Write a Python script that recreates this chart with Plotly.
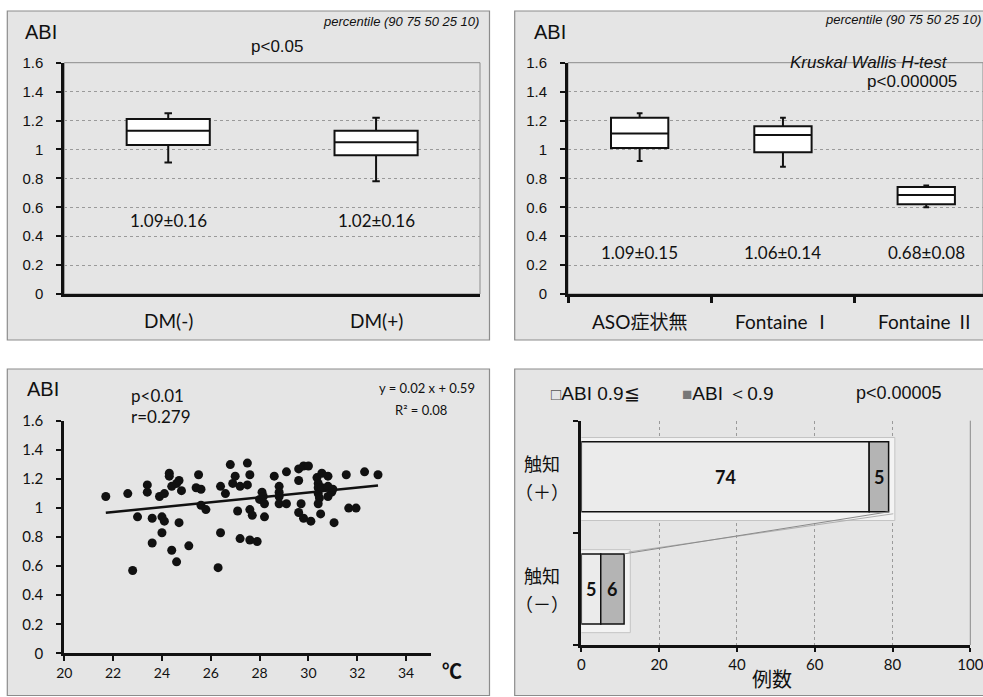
import plotly.graph_objects as go

W, H = 983, 697


def px(x):
    return x / W


def py(y):
    return 1 - y / H


ARIAL = "Liberation Sans, Arial, sans-serif"
CAL = "Lato, Noto Sans CJK JP, sans-serif"
CJK = "Noto Sans CJK JP, sans-serif"
INK = "#111111"
PANEL = "#e5e5e5"
EDGE = "#8c8c8c"
GRID = "#9a9a9a"

# ---------------- data ----------------
# panel 1: DM
dm_groups = ["DM(-)", "DM(+)"]
dm_p90 = [1.25, 1.22]
dm_p75 = [1.21, 1.13]
dm_p50 = [1.13, 1.05]
dm_p25 = [1.03, 0.96]
dm_p10 = [0.91, 0.78]
dm_mean_sd = ["1.09±0.16", "1.02±0.16"]

# panel 2: stage
stage_groups = ["ASO症状無", "Fontaine Ⅰ", "Fontaine Ⅱ"]
stage_p90 = [1.25, 1.22, 0.75]
stage_p75 = [1.22, 1.16, 0.74]
stage_p50 = [1.11, 1.10, 0.685]
stage_p25 = [1.01, 0.98, 0.62]
stage_p10 = [0.92, 0.88, 0.60]
stage_mean_sd = ["1.09±0.15", "1.06±0.14", "0.68±0.08"]

# panel 3: skin temperature vs ABI
temp_c = [21.7, 22.6, 22.8, 23.0, 23.4, 23.4, 23.6, 23.6, 23.9, 24.0,
          24.0, 24.1, 24.1, 24.3, 24.3, 24.4, 24.4, 24.6, 24.7, 24.6,
          24.7, 24.8, 25.1, 25.5, 25.4, 25.6, 25.6, 25.8, 26.3, 26.4,
          26.4, 26.6, 26.8, 26.9, 27.0, 27.1, 27.2, 27.2, 27.5, 27.5,
          27.6, 27.6, 27.6, 27.7, 27.9, 28.0, 28.1, 28.15, 28.2, 28.2,
          28.6, 28.8, 28.8, 28.8, 28.8, 29.1, 29.1, 29.6, 29.6, 29.6,
          29.7, 29.8, 29.8, 30.0, 30.1, 30.35, 30.4, 30.4, 30.4, 30.45,
          30.4, 30.55, 30.55, 30.5, 30.8, 30.8, 30.8, 30.95, 31.0, 31.05,
          31.55, 31.65, 31.95, 32.3, 32.85]
abi = [1.08, 1.10, 0.57, 0.94, 1.16, 1.11, 0.93, 0.76, 1.08, 0.94,
       0.83, 1.10, 0.91, 1.24, 1.22, 1.15, 0.71, 1.17, 1.19, 0.63,
       0.90, 1.12, 0.74, 1.23, 1.14, 1.13, 1.02, 0.99, 0.59, 0.83,
       1.15, 1.10, 1.30, 1.17, 1.22, 0.98, 1.15, 0.79, 1.31, 1.16,
       1.23, 0.99, 0.78, 0.95, 0.77, 1.06, 1.11, 1.08, 1.03, 0.94,
       1.22, 1.15, 1.11, 1.08, 1.03, 1.25, 1.03, 1.27, 1.19, 0.97,
       1.03, 1.29, 0.93, 1.29, 0.91, 1.21, 1.17, 1.14, 1.10, 1.07,
       1.03, 1.24, 1.14, 0.96, 1.22, 1.15, 1.08, 1.11, 1.13, 0.90,
       1.23, 1.00, 1.00, 1.25, 1.23]
trend_x = [21.7, 32.85]
trend_y = [0.968, 1.155]

# panel 4: palpation
palp_line1 = ["触知", "触知"]
palp_line2 = ["（＋）", "（－）"]
palp_pos = [1, 0]
palp_normal = [74, 5]   # ABI 0.9≦
palp_low = [5, 6]       # ABI <0.9

fig = go.Figure()

# ---------- panel 1: boxes ----------
dm_x = list(range(len(dm_groups)))
fig.add_trace(go.Box(
    x=dm_x, q1=dm_p25, median=dm_p50, q3=dm_p75,
    lowerfence=dm_p10, upperfence=dm_p90,
    width=0.4, whiskerwidth=0.09, fillcolor="white",
    line=dict(color=INK, width=2), boxpoints=False,
    xaxis="x", yaxis="y", hoverinfo="skip", showlegend=False))

# ---------- panel 2: boxes ----------
st_x = list(range(len(stage_groups)))
fig.add_trace(go.Box(
    x=st_x, q1=stage_p25, median=stage_p50, q3=stage_p75,
    lowerfence=stage_p10, upperfence=stage_p90,
    width=0.4, whiskerwidth=0.1, fillcolor="white",
    line=dict(color=INK, width=2), boxpoints=False,
    xaxis="x2", yaxis="y2", hoverinfo="skip", showlegend=False))

# ---------- panel 3: scatter ----------
fig.add_trace(go.Scatter(
    x=temp_c, y=abi, mode="markers",
    marker=dict(size=9, color=INK),
    xaxis="x3", yaxis="y3", hoverinfo="skip", showlegend=False))
fig.add_trace(go.Scatter(
    x=trend_x, y=trend_y, mode="lines",
    line=dict(color=INK, width=2.5),
    xaxis="x3", yaxis="y3", hoverinfo="skip", showlegend=False))

# ---------- panel 4: bars ----------
totals = [a + b for a, b in zip(palp_normal, palp_low)]
fig.add_trace(go.Bar(
    y=palp_pos, x=[t + 2.0 for t in totals], base=[-0.4] * len(totals),
    orientation="h", width=0.74, offset=-0.39,
    marker=dict(color="#f3f3f3", line=dict(color="#c4c4c4", width=1)),
    xaxis="x4", yaxis="y4", hoverinfo="skip", showlegend=False))
fig.add_trace(go.Scatter(
    x=[totals[0] + 1.2, totals[1] + 1.2],
    y=[palp_pos[0] - 0.33, palp_pos[1] + 0.33],
    mode="lines", line=dict(color="#b0b0b0", width=1),
    xaxis="x4", yaxis="y4", hoverinfo="skip", showlegend=False))
fig.add_trace(go.Scatter(
    x=[totals[0], totals[1]],
    y=[palp_pos[0] - 0.3125, palp_pos[1] + 0.3125],
    mode="lines", line=dict(color="#8a8a8a", width=1),
    xaxis="x4", yaxis="y4", hoverinfo="skip", showlegend=False))
fig.add_trace(go.Bar(
    y=palp_pos, x=palp_normal, base=[0] * len(palp_normal),
    orientation="h", width=0.625,
    marker=dict(color="#ebebeb", line=dict(color=INK, width=1.5)),
    xaxis="x4", yaxis="y4", hoverinfo="skip", showlegend=False))
fig.add_trace(go.Bar(
    y=palp_pos, x=palp_low, base=palp_normal,
    orientation="h", width=0.625,
    marker=dict(color="#b4b4b4", line=dict(color=INK, width=1.5)),
    xaxis="x4", yaxis="y4", hoverinfo="skip", showlegend=False))

# ---------- axes ----------
line_kw = dict(showline=True, linecolor=INK, linewidth=3, zeroline=False,
               automargin=False)
ytick_kw = dict(ticks="outside", ticklen=5, tickwidth=2, tickcolor=INK,
                ticklabelstandoff=10)

layout = dict(
    width=W, height=H, autosize=False,
    margin=dict(l=0, r=0, t=0, b=0, pad=0, autoexpand=False),
    paper_bgcolor="white", plot_bgcolor="rgba(0,0,0,0)",
    barmode="overlay", showlegend=False, hovermode=False,
    xaxis=dict(domain=[px(64.3), px(480)], range=[-0.5, 1.5], anchor="y",
               showgrid=False, showticklabels=False, ticks="", **line_kw),
    yaxis=dict(domain=[py(294), py(62.7)], range=[0, 1.6], dtick=0.2, tick0=0,
               anchor="x", showgrid=True, gridcolor=GRID, griddash="dot",
               gridwidth=1, tickfont=dict(family=ARIAL, size=15, color=INK),
               **ytick_kw, **line_kw),
    xaxis2=dict(domain=[px(568), 1.0], range=[-0.5, -0.5 + (983 - 568) / 143.3],
                anchor="y2", showgrid=False, showticklabels=False,
                tickvals=[-0.5, 0.5, 1.5], ticks="outside", ticklen=6,
                tickwidth=3, tickcolor=INK, **line_kw),
    yaxis2=dict(domain=[py(294), py(62.7)], range=[0, 1.6], dtick=0.2, tick0=0,
                anchor="x2", showgrid=True, gridcolor=GRID, griddash="dot",
                gridwidth=1, tickfont=dict(family=ARIAL, size=15, color=INK),
                **ytick_kw, **line_kw),
    xaxis3=dict(domain=[px(64.3), px(430.5)], range=[20, 35],
                tickvals=list(range(20, 35, 2)), anchor="y3", showgrid=False,
                ticks="outside", ticklen=5, tickwidth=2, tickcolor=INK,
                tickfont=dict(family=CAL, size=14, color=INK), **line_kw),
    yaxis3=dict(domain=[py(653.3), py(421)], range=[0, 1.6], dtick=0.2, tick0=0,
                anchor="x3", showgrid=False,
                tickfont=dict(family=CAL, size=15, color=INK),
                **ytick_kw, **line_kw),
    xaxis4=dict(domain=[px(581.3), px(970.3)], range=[0, 100], dtick=20,
                anchor="y4", showgrid=True, gridcolor=GRID, griddash="dot",
                gridwidth=1, ticks="outside", ticklen=4, tickwidth=2,
                tickcolor=INK, tickfont=dict(family=CAL, size=15, color=INK),
                ticklabeloverflow="allow", **line_kw),
    yaxis4=dict(domain=[py(645), py(420.7)], range=[-0.5, 1.5],
                tickvals=[-0.5, 0.5, 1.5], anchor="x4", showgrid=False,
                showticklabels=False, ticks="outside", ticklen=5, tickwidth=2,
                tickcolor=INK, **line_kw),
)

# ---------- panel backgrounds / frames ----------
shapes = []
for (x0, x1, y0, y1) in [(7.3, 489.5, 11, 340), (514.7, 995, 11, 340),
                         (7.3, 489.5, 369, 695.5), (514.7, 995, 369, 695.5)]:
    shapes.append(dict(type="rect", xref="paper", yref="paper",
                       x0=px(x0), x1=px(x1), y0=py(y1), y1=py(y0),
                       fillcolor=PANEL, line=dict(color=EDGE, width=1.2),
                       layer="below"))
for ax in ["x", "x2"]:
    ya = "y" if ax == "x" else "y2"
    shapes.append(dict(type="rect", xref=f"{ax} domain", yref=f"{ya} domain",
                       x0=0, x1=1, y0=0, y1=1,
                       line=dict(color=EDGE, width=1), layer="below"))
shapes.append(dict(type="line", xref="x4 domain", yref="y4 domain",
                   x0=1, x1=1, y0=0, y1=1,
                   line=dict(color="#8a8a8a", width=1), layer="below"))
layout["shapes"] = shapes

# ---------- text ----------
ann = []


def T(text, x, y, size, family=ARIAL, xref="paper", yref="paper",
      xanchor="center", yanchor="middle", color=INK, yshift=0):
    ann.append(dict(text=text, x=x, y=y, xref=xref, yref=yref,
                    xanchor=xanchor, yanchor=yanchor, showarrow=False,
                    font=dict(family=family, size=size, color=color),
                    yshift=yshift))


# panel 1
T("ABI", px(41), py(31.7), 20)
T("p<0.05", px(277), py(46), 17)
T("<i>percentile (90 75 50 25 10)</i>", px(481), py(21), 13, xanchor="right")
for i, s in enumerate(dm_mean_sd):
    T(s, dm_x[i], 0.51, 17, family=CAL, xref="x", yref="y")
for i, s in enumerate(dm_groups):
    T(s, dm_x[i], py(320), 19, family=CAL, xref="x")

# panel 2
T("ABI", px(550), py(31.7), 20)
T("<i>percentile (90 75 50 25 10)</i>", px(983), py(20), 13, xanchor="right")
T("<i>Kruskal Wallis H-test</i>", px(868.7), py(62.5), 17)
T("p<0.000005", px(912), py(81.5), 17)
for i, s in enumerate(stage_mean_sd):
    T(s, st_x[i], 0.285, 17, family=CAL, xref="x2", yref="y2")
for i, s in enumerate(stage_groups):
    T(s, st_x[i], py(321.7), 19, family=CAL, xref="x2")

# panel 3
T("ABI", px(43), py(389.3), 20)
T("p<0.01", px(129), py(395), 17, family=CAL, xanchor="left")
T("r=0.279", px(129), py(416.7), 17, family=CAL, xanchor="left")
T("y = 0.02 x + 0.59", px(477), py(388), 13, family=CAL, xanchor="right")
T("R² = 0.08", px(421), py(410), 13, family=CAL)
T("<b>℃</b>", px(452), py(670), 20, family=CJK)

# panel 4
T('<span style="font-size:17px;color:#555">□</span>ABI 0.9≦', px(549), py(393),
  19, xanchor="left")
T('<span style="font-size:17px;color:#777">■</span>ABI ＜0.9', px(680), py(393),
  19, xanchor="left")
T("p<0.00005", px(898.7), py(393), 18)
for i in range(len(palp_pos)):
    T(palp_line1[i], px(542), palp_pos[i], 18, family=CJK, yref="y4", yshift=14)
    T(palp_line2[i], px(542), palp_pos[i], 18, family=CJK, yref="y4", yshift=-14)
for i in range(len(palp_pos)):
    T(f"<b>{palp_normal[i]}</b>", palp_normal[i] / 2, palp_pos[i], 18,
      family=CAL, xref="x4", yref="y4")
    T(f"<b>{palp_low[i]}</b>", palp_normal[i] + palp_low[i] / 2, palp_pos[i], 18,
      family=CAL, xref="x4", yref="y4")
T("例数", px(772), py(678), 20, family=CJK)

layout["annotations"] = ann
fig.update_layout(**layout)
fig.write_html(
    "out.html",
    config={"displayModeBar": False, "staticPlot": True},
    post_script="document.body.style.margin='0';"
                "document.body.style.overflow='hidden';",
)
